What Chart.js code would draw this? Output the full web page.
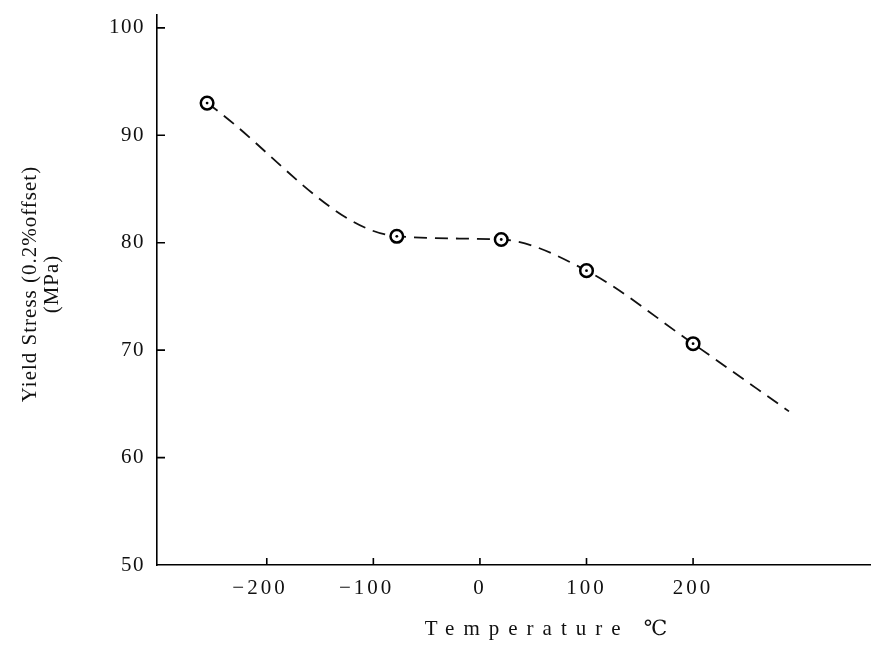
<!DOCTYPE html>
<html><head><meta charset="utf-8">
<script src="https://cdn.jsdelivr.net/npm/chart.js@4.4.0/dist/chart.umd.min.js"></script>
<style>html,body{margin:0;padding:0;background:#fff;}#wrap{width:871px;height:648px;}</style>
</head><body><div id="wrap"><canvas id="c" width="871" height="648"></canvas></div>
<script>
const temperatures = [-256, -78, 20, 100, 200];
const yieldStress = [93.0, 80.6, 80.3, 77.4, 70.6];
const curveTemperatures = [-256, -78, 20, 100, 200, 290];
const curveStress = [93.0, 80.6, 80.3, 77.4, 70.6, 64.3];
const xTicks = [-200, -100, 0, 100, 200];
const yTicks = [50, 60, 70, 80, 90, 100];
const xTitle = 'Temperature ℃';
const yTitle = ['Yield Stress (0.2%offset)', '(MPa)'];

const FONT = '"Liberation Serif", "DejaVu Serif", serif';
const pts = temperatures.map((t, i) => ({x: t, y: yieldStress[i]}));
const curve = curveTemperatures.map((t, i) => ({x: t, y: curveStress[i]}));

function wrapSpacing(scale, ls) {
  if (scale._lsWrapped) return;
  const orig = scale.drawLabels;
  scale.drawLabels = function (ca) {
    const ctx = this.ctx; ctx.save(); ctx.letterSpacing = ls; orig.call(this, ca); ctx.restore();
  };
  scale._lsWrapped = true;
}
function noPad(s) { s.paddingTop = 0; s.paddingBottom = 0; s.paddingLeft = 0; s.paddingRight = 0; }

const decor = {
  id: 'decor',
  beforeDraw(chart) {
    wrapSpacing(chart.scales.x, '3px');
    wrapSpacing(chart.scales.y, '1.5px');
  },
  afterDraw(chart) {
    const {ctx, chartArea: a, scales: {x, y}} = chart;
    ctx.save();
    ctx.strokeStyle = '#000'; ctx.lineWidth = 1.6;
    ctx.beginPath();
    xTicks.forEach(v => { const px = x.getPixelForValue(v); ctx.moveTo(px, a.bottom); ctx.lineTo(px, a.bottom - 7); });
    yTicks.forEach(v => { if (v === y.min) return; const py = y.getPixelForValue(v); ctx.moveTo(a.left, py); ctx.lineTo(a.left + 8, py); });
    ctx.stroke();
    ctx.fillStyle = '#111';
    ctx.font = '21px ' + FONT;
    ctx.textAlign = 'center'; ctx.textBaseline = 'middle';
    ctx.letterSpacing = '9px';
    ctx.fillText(xTitle, (a.left + a.right) / 2 + 37, a.bottom + 64);
    ctx.letterSpacing = '1px';
    const cy = (a.top + a.bottom) / 2 - 6;
    yTitle.forEach((line, i) => {
      ctx.save();
      ctx.translate(30 + i * 22, cy);
      ctx.rotate(-Math.PI / 2);
      ctx.fillText(line, 0, 0);
      ctx.restore();
    });
    ctx.restore();
  }
};

new Chart(document.getElementById('c'), {
  type: 'scatter',
  data: {
    datasets: [
      {label: 'center', data: pts, pointRadius: 1.4, pointBackgroundColor: '#000', pointBorderWidth: 0, order: 0},
      {label: 'Yield stress', data: pts, pointRadius: 6.3, pointBorderWidth: 2.5, pointBorderColor: '#000', pointBackgroundColor: '#fff', order: 1},
      {label: 'curve', type: 'line', data: curve, showLine: true, borderColor: '#111', borderWidth: 1.8,
       borderDash: [13, 8], pointRadius: 0, cubicInterpolationMode: 'monotone', fill: false, order: 2}
    ]
  },
  options: {
    responsive: false, animation: false, devicePixelRatio: 1,
    layout: {autoPadding: false, padding: {top: 15, right: 1, left: 0, bottom: 0}},
    plugins: {legend: {display: false}, tooltip: {enabled: false}},
    scales: {
      x: {
        type: 'linear', min: -303, max: 366,
        afterBuildTicks: s => { s.ticks = xTicks.map(v => ({value: v})); },
        afterFit: s => { s.height = 83; noPad(s); },
        grid: {display: false, drawTicks: false},
        border: {display: true, color: '#000', width: 1.6},
        ticks: {color: '#111', font: {family: FONT, size: 21}, padding: 11, maxRotation: 0, autoSkip: false,
          callback: v => v < 0 ? '−' + Math.abs(v) + '\u2002' : String(v)}
      },
      y: {
        type: 'linear', min: 50, max: 101.2,
        afterBuildTicks: s => { s.ticks = yTicks.map(v => ({value: v})); },
        afterFit: s => { s.width = 157; noPad(s); },
        grid: {display: false, drawTicks: false},
        border: {display: true, color: '#000', width: 1.6},
        ticks: {color: '#111', font: {family: FONT, size: 21}, padding: 12, autoSkip: false}
      }
    }
  },
  plugins: [decor]
});
</script></body></html>
